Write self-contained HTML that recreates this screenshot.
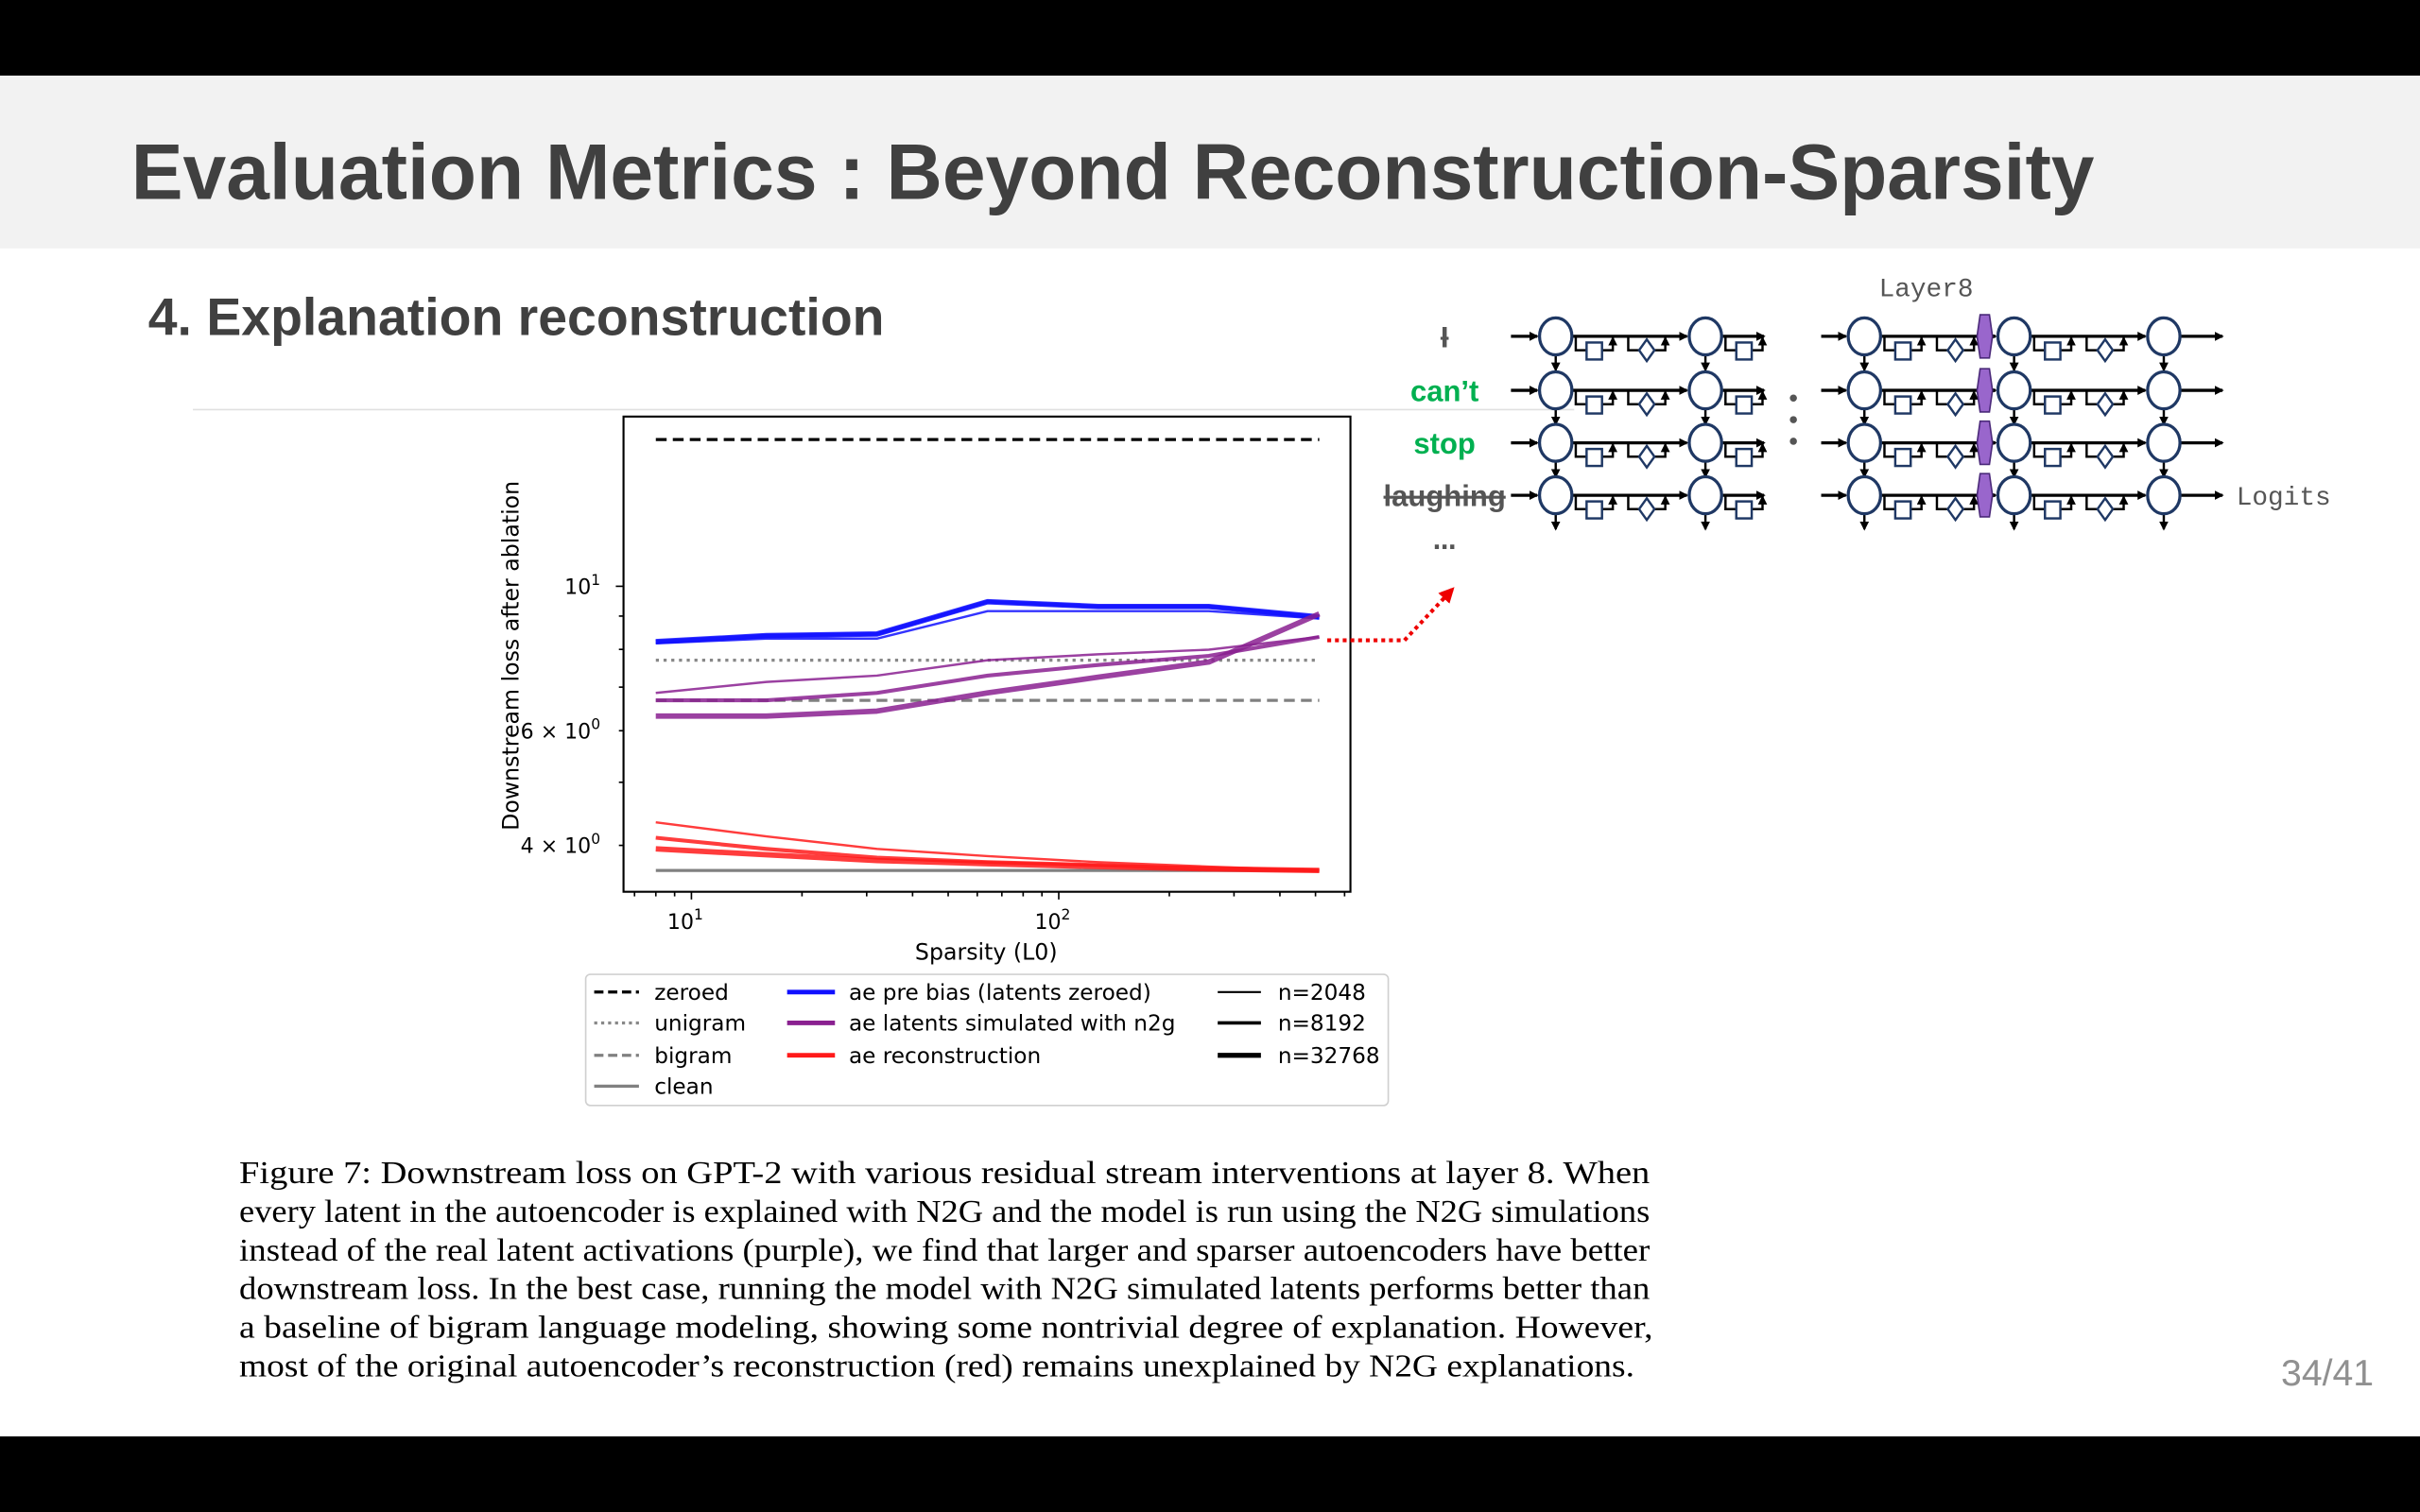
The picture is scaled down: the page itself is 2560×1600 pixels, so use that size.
<!DOCTYPE html>
<html><head><meta charset="utf-8">
<style>
html,body{margin:0;padding:0;background:#fff;overflow:hidden;}
#wrap{width:1568px;height:980px;transform:scale(1.6326531);transform-origin:0 0;position:relative;}
svg text{font-family:"DejaVu Sans","Liberation Sans",sans-serif;}
</style></head><body>
<div id="wrap">
<svg id="svg" width="1568" height="980" viewBox="0 0 1568 980" xmlns="http://www.w3.org/2000/svg">
<defs>
<marker id="ah" markerWidth="6" markerHeight="6" refX="5" refY="3" orient="auto" markerUnits="userSpaceOnUse"><path d="M0,0 L6,3 L0,6 z" fill="#000"/></marker>
<marker id="ahr" markerWidth="10" markerHeight="10" refX="8" refY="5" orient="auto" markerUnits="userSpaceOnUse"><path d="M0,0 L10,5 L0,10 z" fill="#e00"/></marker>
</defs>
<rect x="0" y="0" width="1568" height="49" fill="#000"/>
<rect x="0" y="49" width="1568" height="112" fill="#f2f2f2"/>
<rect x="0" y="931" width="1568" height="49" fill="#000"/>
<text x="85" y="129" font-size="51" font-weight="bold" fill="#404040" textLength="1272" lengthAdjust="spacingAndGlyphs" style="font-family:'Liberation Sans',sans-serif">Evaluation Metrics : Beyond Reconstruction-Sparsity</text>
<text x="96" y="217" font-size="34" font-weight="bold" fill="#404040" textLength="477" lengthAdjust="spacingAndGlyphs" style="font-family:'Liberation Sans',sans-serif">4. Explanation reconstruction</text>
<line x1="125" y1="265.5" x2="1020" y2="265.5" stroke="#e0e0e0" stroke-width="1"/>
<text x="1478" y="898" font-size="24" fill="#909090" style="font-family:'Liberation Sans',sans-serif">34/41</text>
<g id="chart"></g>
<g id="diagram"></g>
<g id="caption"></g>
</svg>
</div>
<script>
// ---- chart data ----
const sparsity = [8, 16, 32, 64, 128, 256, 512];
const blueThin = [8.17, 8.31, 8.31, 9.16, 9.16, 9.16, 8.92];
const blueMid = [8.22, 8.40, 8.45, 9.47, 9.31, 9.31, 8.97];
const blueThick = [8.22, 8.40, 8.45, 9.47, 9.31, 9.31, 8.97];
const purpleThin = [6.86, 7.13, 7.29, 7.70, 7.86, 7.99, 8.36];
const purpleMid = [6.68, 6.68, 6.86, 7.29, 7.57, 7.82, 8.36];
const purpleThick = [6.32, 6.32, 6.43, 6.86, 7.25, 7.65, 9.07];
const redThin = [4.34, 4.13, 3.95, 3.85, 3.77, 3.71, 3.66];
const redMid = [4.11, 3.95, 3.83, 3.77, 3.73, 3.68, 3.66];
const redThick = [3.95, 3.87, 3.79, 3.75, 3.71, 3.68, 3.66];
const zeroedLevel = 16.8;
const unigramLevel = 7.7;
const bigramLevel = 6.68;
const cleanLevel = 3.66;
const xTickValues = [10, 100];
const xTickLabels = ["1", "2"];
const yTickValues = [10, 6, 4];
const yTickLabels = ["10", "6 × 10", "4 × 10"];
const yTickExps = ["1", "0", "0"];

const NS = "http://www.w3.org/2000/svg";
function el(tag, attrs, parent, txt){
  const e = document.createElementNS(NS, tag);
  for (const k in attrs) e.setAttribute(k, attrs[k]);
  if (txt !== undefined) e.textContent = txt;
  parent.appendChild(e);
  return e;
}
const P = {l:404, r:875, t:270, b:578};
function xs(v){ return 448 + (Math.log10(v) - 1) * 238; }
function ys(v){ return 380 + (1 - Math.log10(v)) * 422; }
const chart = document.getElementById('chart');

function series(vals, color, w, name){
  const d = vals.map((v,i)=>(i?'L':'M')+xs(sparsity[i]).toFixed(1)+','+ys(v).toFixed(1)).join(' ');
  const p = el('path', {d:d, fill:'none', stroke:color, 'stroke-width':w, 'stroke-linejoin':'round', 'stroke-opacity':0.85}, chart);
  
  
}
function hline(v, color, w, dash, name){
  const l = el('line', {x1:xs(sparsity[0]), x2:xs(sparsity[sparsity.length-1]), y1:ys(v), y2:ys(v), stroke:color, 'stroke-width':w, 'stroke-dasharray':dash}, chart);
  
  
}
hline(zeroedLevel, '#000', 2, '7,4', 'zeroed-line');
hline(unigramLevel, '#888', 2, '2,3', 'unigram-line');
hline(bigramLevel, '#808080', 2, '7,4', 'bigram-line');
hline(cleanLevel, '#808080', 2, '', 'clean-line');
series(blueThin, '#1010ff', 1.5, 'blue-n2048');
series(blueMid, '#1010ff', 2.5, 'blue-n8192');
series(blueThick, '#1010ff', 3.5, 'blue-n32768');
series(purpleThin, '#8a2090', 1.5, 'purple-n2048');
series(purpleMid, '#8a2090', 2.5, 'purple-n8192');
series(purpleThick, '#8a2090', 3.5, 'purple-n32768');
series(redThin, '#ff1a1a', 1.5, 'red-n2048');
series(redMid, '#ff1a1a', 2.5, 'red-n8192');
series(redThick, '#ff1a1a', 3.5, 'red-n32768');

const frame = el('rect', {x:P.l, y:P.t, width:P.r-P.l, height:P.b-P.t, fill:'none', stroke:'#000', 'stroke-width':1.3}, chart);



// x ticks
for (let dec=1; dec<=100; dec*=10){
  for (let m=1; m<10; m++){
    const v = m*dec; const x = xs(v);
    if (x < P.l || x > P.r) continue;
    const major = (m===1);
    el('line', {x1:x, x2:x, y1:P.b, y2:P.b+(major?5:3), stroke:'#000', 'stroke-width':1}, chart);
  }
}
xTickValues.forEach((v,i)=>{
  const t = el('text', {x:xs(v)-4, y:P.b+24, 'font-size':13.5, 'text-anchor':'middle', fill:'#000'}, chart, '10');
  
  
  el('tspan', {dy:-6, 'font-size':9.5}, t, xTickLabels[i]);
});
// y ticks
[4,5,6,7,8,9,10].forEach(v=>{
  const y = ys(v);
  el('line', {x1:P.l, x2:P.l-(v===10?5:3), y1:y, y2:y, stroke:'#000', 'stroke-width':1}, chart);
});
yTickValues.forEach((v,i)=>{
  const t = el('text', {x:P.l-15, y:ys(v)+5, 'font-size':13.5, 'text-anchor':'end', fill:'#000'}, chart, yTickLabels[i]);
  
  
  el('tspan', {dy:-6, 'font-size':9.5}, t, yTickExps[i]);
});
const xt = el('text', {x:639, y:622, 'font-size':14.5, 'text-anchor':'middle'}, chart, 'Sparsity (L0)');


const yt = el('text', {x:0, y:0, 'font-size':14.5, 'text-anchor':'middle', transform:'translate(336,425) rotate(-90)'}, chart, 'Downstream loss after ablation');



// legend
const lg = el('g', {}, chart);


el('rect', {x:379.5, y:631.5, width:520, height:85, rx:3, fill:'#fff', stroke:'#d0d0d0', 'stroke-width':1}, lg);
const legendItems = [
  [385,414,424,643,'zeroed','#000',2,'6,3'],
  [385,414,424,663,'unigram','#888',2,'2,2.5'],
  [385,414,424,684,'bigram','#808080',2,'6,3'],
  [385,414,424,704,'clean','#808080',2,''],
  [510,541,550,643,'ae pre bias (latents zeroed)','#1010ff',3,''],
  [510,541,550,663,'ae latents simulated with n2g','#8a2090',3,''],
  [510,541,550,684,'ae reconstruction','#ff1a1a',3,''],
  [789,817,828,643,'n=2048','#000',1.3,''],
  [789,817,828,663,'n=8192','#000',2.2,''],
  [789,817,828,684,'n=32768','#000',3.2,'']
];
legendItems.forEach(it=>{
  const g = el('g', {}, lg);
  
  
  el('line', {x1:it[0], x2:it[1], y1:it[3], y2:it[3], stroke:it[5], 'stroke-width':it[6], 'stroke-dasharray':it[7]}, g);
  el('text', {x:it[2], y:it[3]+5, 'font-size':14.2, fill:'#000'}, g, it[4]);
});

// red dotted pointer
const ptr = el('path', {d:'M860,415 L910,415 L941,382', fill:'none', stroke:'#e00', 'stroke-width':2.5, 'stroke-dasharray':'2.5,2.5', 'marker-end':'url(#ahr)'}, chart);



// ---- diagram ----
const dg = document.getElementById('diagram');
const rows = [218, 253, 287, 321];
const words = [['I','#555',true],['can’t','#00b050',false],['stop','#00b050',false],['laughing','#555',true]];
const circlesL = [1008, 1105];
const circlesR = [1208, 1305, 1402];
const navy = '#1f3864';
function block(x0, y, g, kind){
  // bracket going down from main line with a shape
  const a = x0, b = x0+24;
  el('path', {d:`M${a},${y} L${a},${y+9} L${b},${y+9} L${b},${y+1}`, fill:'none', stroke:'#000', 'stroke-width':1.5, 'marker-end':'url(#ah)'}, g);
  const cx = (a+b)/2;
  if (kind==='sq') el('rect', {x:cx-5, y:y+4, width:10, height:11, fill:'#fff', stroke:navy, 'stroke-width':1.5}, g);
  else el('path', {d:`M${cx},${y+2} L${cx+5},${y+9} L${cx},${y+16} L${cx-5},${y+9} z`, fill:'#fff', stroke:navy, 'stroke-width':1.5}, g);
}
rows.forEach((y,ri)=>{
  const g = el('g', {}, dg);
  
  
  const w = words[ri];
  const t = el('text', {x:936, y:y+7, 'font-size':19, 'font-weight':'bold', fill:w[1], 'text-anchor':'middle', style:"font-family:'Liberation Sans',sans-serif", 'text-decoration':w[2]?'line-through':'none'}, g, w[0]);
  
  
  // left section
  el('line', {x1:979, x2:996, y1:y, y2:y, stroke:'#000', 'stroke-width':2, 'marker-end':'url(#ah)'}, g);
  el('line', {x1:1019, x2:1093, y1:y, y2:y, stroke:'#000', 'stroke-width':2, 'marker-end':'url(#ah)'}, g);
  block(1021, y, g, 'sq'); block(1055, y, g, 'dm');
  el('line', {x1:1116, x2:1143, y1:y, y2:y, stroke:'#000', 'stroke-width':2, 'marker-end':'url(#ah)'}, g);
  block(1118, y, g, 'sq');
  // right section
  el('line', {x1:1180, x2:1196, y1:y, y2:y, stroke:'#000', 'stroke-width':2, 'marker-end':'url(#ah)'}, g);
  el('line', {x1:1219, x2:1293, y1:y, y2:y, stroke:'#000', 'stroke-width':2, 'marker-end':'url(#ah)'}, g);
  block(1221, y, g, 'sq'); block(1255, y, g, 'dm');
  el('line', {x1:1316, x2:1390, y1:y, y2:y, stroke:'#000', 'stroke-width':2, 'marker-end':'url(#ah)'}, g);
  block(1318, y, g, 'sq'); block(1352, y, g, 'dm');
  el('line', {x1:1413, x2:1440, y1:y, y2:y, stroke:'#000', 'stroke-width':2, 'marker-end':'url(#ah)'}, g);
  const hx = el('path', {d:`M${1283},${y-14} L${1289},${y-14} L${1291},${y} L${1289},${y+14} L${1283},${y+14} L${1281},${y} z`, fill:'#9966cc', stroke:'#4b2a7a', 'stroke-width':1}, g);
  
  
  circlesL.concat(circlesR).forEach(cx=>{
    el('line', {x1:cx, x2:cx, y1:y+12, y2:y+22, stroke:'#000', 'stroke-width':1.5, 'marker-end':'url(#ah)'}, g);
    el('ellipse', {cx:cx, cy:y, rx:10.5, ry:12, fill:'#fff', stroke:navy, 'stroke-width':2}, g);
  });
});
el('text', {x:936, y:356, 'font-size':15, 'font-weight':'bold', fill:'#555', 'text-anchor':'middle'}, dg, '…');
[258,272,286].forEach(y=>el('circle', {cx:1162, cy:y, r:2.3, fill:'#555'}, dg));
const l8 = el('text', {x:1248, y:192, 'font-size':17, fill:'#555', 'text-anchor':'middle', style:"font-family:'Liberation Mono',monospace"}, dg, 'Layer8');


const lo = el('text', {x:1449, y:327, 'font-size':17, fill:'#555', style:"font-family:'Liberation Mono',monospace"}, dg, 'Logits');



// ---- caption ----
const cap = document.getElementById('caption');
const capLines = [
 "Figure 7: Downstream loss on GPT-2 with various residual stream interventions at layer 8. When",
 "every latent in the autoencoder is explained with N2G and the model is run using the N2G simulations",
 "instead of the real latent activations (purple), we find that larger and sparser autoencoders have better",
 "downstream loss. In the best case, running the model with N2G simulated latents performs better than",
 "a baseline of bigram language modeling, showing some nontrivial degree of explanation. However,",
 "most of the original autoencoder’s reconstruction (red) remains unexplained by N2G explanations."
];
const capW = [914, 914, 914, 914, 916, 904];
capLines.forEach((s,i)=>{
  el('text', {x:155, y:767+i*25, 'font-size':21, fill:'#000', textLength:capW[i], lengthAdjust:'spacingAndGlyphs', style:"font-family:'Liberation Serif',serif"}, cap, s);
});
</script>
</body></html>
